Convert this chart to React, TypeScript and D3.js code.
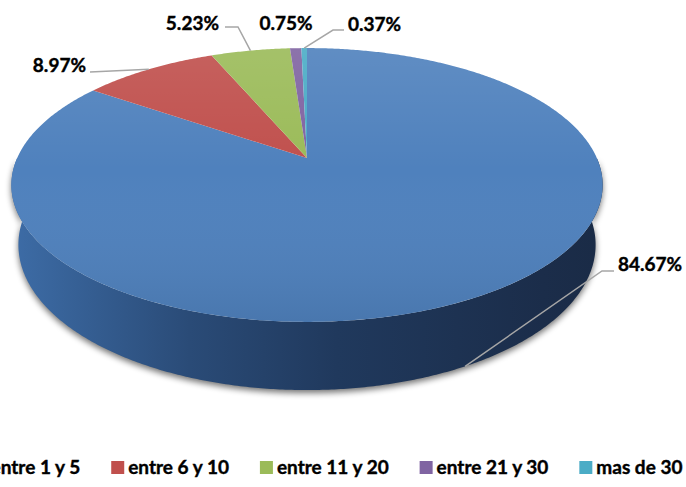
import React from 'react';
import * as d3 from 'd3';

const CATEGORIES = ['entre 1 y 5', 'entre 6 y 10', 'entre 11 y 20', 'entre 21 y 30', 'mas de 30'];
const VALUES = [84.67, 8.97, 5.23, 0.75, 0.37];
const LABELS = ['84.67%', '8.97%', '5.23%', '0.75%', '0.37%'];
const COLORS = ['#4f81bd', '#c0504d', '#9bbb59', '#8064a2', '#4bacc6'];

const W = 686;
const H = 487;
const FONT = 'Lato, "DejaVu Sans", sans-serif';
const FS = 19;

// perspective camera for the tilted disc
const CX = 307;
const CY = 158;
const SIN_T = 0.454;
const COS_T = Math.sqrt(1 - SIN_T * SIN_T);
const DIST = 4.52;
const FOCAL = 1310;
const DEPTH = 0.233;

function project(phi: number, z: number, r = 1): [number, number] {
  const X = Math.sin(phi) * r;
  const Y = Math.cos(phi) * r;
  const yc = Y * SIN_T + z * COS_T;
  const zc = DIST + Y * COS_T - z * SIN_T;
  return [CX + (FOCAL * X) / zc, CY - (FOCAL * yc) / zc];
}

function arcPts(a0: number, a1: number, z: number): [number, number][] {
  const n = Math.max(2, Math.ceil((a1 - a0) / (Math.PI / 360)));
  return d3.range(n + 1).map(i => project(a0 + ((a1 - a0) * i) / n, z));
}

// label placement: text anchor point + leader elbow (layout only)
const LABEL_POS = [
  { x: 618, y: 271, anchor: 'start', elbow: [[602, 271], [614, 271]], bottom: true },
  { x: 86, y: 72, anchor: 'end', elbow: [[90, 72]], bottom: false },
  { x: 219, y: 30, anchor: 'end', elbow: [[238, 27], [225, 27]], bottom: false },
  { x: 286, y: 30, anchor: 'middle', elbow: null, bottom: false },
  { x: 348, y: 31, anchor: 'start', elbow: [[333, 30], [344, 30]], bottom: false },
];

let ctx: CanvasRenderingContext2D | null = null;
function textWidth(s: string) {
  if (!ctx) ctx = document.createElement('canvas').getContext('2d');
  if (!ctx) return s.length * FS * 0.5;
  ctx.font = `bold ${FS}px ${FONT}`;
  return ctx.measureText(s).width;
}

export default function App() {
  const arcs = d3.pie<number>().sort(null).value(d => d)(VALUES);
  const line = d3.line();
  const topOutline = line(arcPts(0, Math.PI * 2, 0)) + 'Z';

  const wallLo = Math.PI / 2;
  const wallHi = (Math.PI * 3) / 2;
  const shadowPath =
    line([...arcPts(wallLo, wallHi, 0), ...arcPts(wallLo, wallHi, -DEPTH).reverse()]) + 'Z';

  // legend layout
  const sq = 13;
  const widths = CATEGORIES.map(textWidth);
  const itemW = widths.map(w => sq + 4 + w + 30);
  const total = d3.sum(itemW) - 30;
  let lx = 328 - total / 2;
  const legendX = itemW.map(w => {
    const x = lx;
    lx += w;
    return x;
  });

  return (
    <svg width={W} height={H} style={{ position: 'absolute', left: 0, top: 0, background: '#fff' }}>
      <defs>
        <linearGradient id="wall" gradientUnits="userSpaceOnUse" x1={13} x2={602} y1={0} y2={0}>
          <stop offset="0" stopColor="#3d6ca6" />
          <stop offset="0.3" stopColor="#2a4b77" />
          <stop offset="0.55" stopColor="#20395d" />
          <stop offset="0.9" stopColor="#1b2d4a" />
          <stop offset="1" stopColor="#1a2b46" />
        </linearGradient>
        <linearGradient id="topShade" gradientUnits="userSpaceOnUse" x1={0} x2={0} y1={45} y2={322}>
          <stop offset="0" stopColor="#fff" stopOpacity={0.1} />
          <stop offset="0.45" stopColor="#fff" stopOpacity={0} />
          <stop offset="1" stopColor="#000" stopOpacity={0.08} />
        </linearGradient>
        <filter id="shadow" x="-10%" y="-10%" width="120%" height="130%">
          <feGaussianBlur stdDeviation="3" />
          <feOffset dx="0" dy="3" />
        </filter>
      </defs>

      <path d={shadowPath} fill="#000" opacity={0.55} filter="url(#shadow)" />

      {arcs.map((a, i) => {
        const lo = Math.max(a.startAngle, wallLo);
        const hi = Math.min(a.endAngle, wallHi);
        if (hi <= lo) return null;
        const d = line([...arcPts(lo, hi, 0), ...arcPts(lo, hi, -DEPTH).reverse()]) + 'Z';
        return <path key={'w' + i} d={d} fill={i === 0 ? 'url(#wall)' : d3.color(COLORS[i])!.darker(1.5).toString()} />;
      })}

      {arcs.map((a, i) => {
        const d = line([[CX, CY], ...arcPts(a.startAngle, a.endAngle, 0)]) + 'Z';
        return <path key={'t' + i} d={d} fill={COLORS[i]} />;
      })}
      <path d={topOutline} fill="url(#topShade)" />

      {arcs.map((a, i) => {
        const p = LABEL_POS[i];
        if (!p.elbow) return null;
        const mid = (a.startAngle + a.endAngle) / 2;
        const start = project(mid, p.bottom ? -DEPTH : 0);
        return (
          <polyline
            key={'l' + i}
            points={[start, ...p.elbow].map(q => q.join(',')).join(' ')}
            fill="none"
            stroke="#a6a6a6"
            strokeWidth={1.5}
          />
        );
      })}

      {LABELS.map((t, i) => (
        <text
          key={'x' + i}
          x={LABEL_POS[i].x}
          y={LABEL_POS[i].y}
          textAnchor={LABEL_POS[i].anchor}
          fontFamily={FONT}
          fontWeight="bold"
          fontSize={FS}
          fill="#000"
          stroke="#000"
          strokeWidth={0.4}
        >
          {t}
        </text>
      ))}

      {CATEGORIES.map((c, i) => (
        <g key={'g' + i} transform={`translate(${legendX[i]},0)`}>
          <rect x={0} y={461} width={sq} height={sq} fill={COLORS[i]} />
          <text
            x={sq + 4}
            y={474}
            fontFamily={FONT}
            fontWeight="bold"
            fontSize={FS}
            fill="#000"
            stroke="#000"
            strokeWidth={0.4}
          >
            {c}
          </text>
        </g>
      ))}
    </svg>
  );
}
